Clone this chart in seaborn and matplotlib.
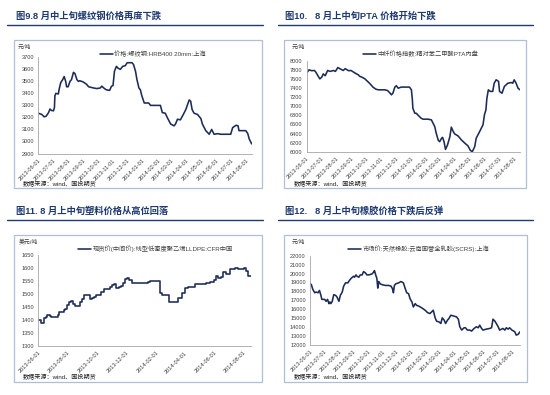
import pandas as pd
import numpy as np
import matplotlib
matplotlib.use("Agg")
import matplotlib.pyplot as plt
import matplotlib.dates as mdates
from matplotlib.patches import Rectangle
from matplotlib.lines import Line2D
import seaborn as sns

# 螺纹钢 HRB400 20mm 上海 (元/吨)
rebar_dates = [
    "2013-06-01", "2013-06-08", "2013-06-13", "2013-06-17", "2013-06-22", "2013-06-25",
    "2013-06-28", "2013-07-02", "2013-07-04", "2013-07-05", "2013-07-07", "2013-07-12",
    "2013-07-14", "2013-07-17", "2013-07-21", "2013-07-24", "2013-07-27", "2013-07-29",
    "2013-08-01", "2013-08-05", "2013-08-08", "2013-08-12", "2013-08-15", "2013-08-19",
    "2013-08-22", "2013-08-25", "2013-09-01", "2013-09-08", "2013-09-12", "2013-09-22",
    "2013-09-29", "2013-10-06", "2013-10-09", "2013-10-13", "2013-10-18", "2013-10-25",
    "2013-10-29", "2013-11-01", "2013-11-04", "2013-11-08", "2013-11-11", "2013-11-16",
    "2013-11-21", "2013-11-26", "2013-11-30", "2013-12-10", "2013-12-13", "2013-12-17",
    "2013-12-20", "2013-12-24", "2013-12-27", "2013-12-30", "2014-01-04", "2014-01-13",
    "2014-01-17", "2014-02-06", "2014-02-10", "2014-02-16", "2014-02-20", "2014-02-27",
    "2014-03-06", "2014-03-09", "2014-03-13", "2014-03-19", "2014-03-25", "2014-03-30",
    "2014-04-06", "2014-04-09", "2014-04-12", "2014-04-16", "2014-04-23", "2014-04-30",
    "2014-05-03", "2014-05-10", "2014-05-17", "2014-05-22", "2014-05-27", "2014-06-03",
    "2014-06-10", "2014-06-30", "2014-07-04", "2014-07-11", "2014-07-15", "2014-07-17",
    "2014-07-31", "2014-08-04", "2014-08-07", "2014-08-12",
]
rebar_price = [
    3235, 3225, 3205, 3210, 3240, 3270,
    3258, 3255, 3280, 3380, 3400, 3395,
    3440, 3490, 3515, 3540, 3500, 3455,
    3455, 3500, 3515, 3575, 3565, 3515,
    3500, 3505, 3495, 3475, 3455, 3445,
    3440, 3445, 3460, 3445, 3430, 3425,
    3460, 3465, 3585, 3625, 3610, 3600,
    3625, 3630, 3655, 3655, 3640, 3585,
    3515, 3445, 3430, 3380, 3320, 3320,
    3300, 3300, 3240, 3235, 3200, 3145,
    3130, 3145, 3185, 3180, 3225, 3265,
    3345, 3335, 3265, 3235, 3225, 3190,
    3145, 3090, 3060, 3100, 3060, 3065,
    3060, 3060, 3115, 3135, 3130, 3090,
    3090, 3065, 3020, 2980,
]

# 中纤价格指数 PTA 内盘 (元/吨)
pta_dates = [
    "2013-06-02", "2013-06-06", "2013-06-11", "2013-06-17", "2013-06-20", "2013-06-24",
    "2013-06-28", "2013-07-02", "2013-07-05", "2013-07-09", "2013-07-14", "2013-07-19",
    "2013-07-26", "2013-07-30", "2013-08-04", "2013-08-08", "2013-08-15", "2013-08-19",
    "2013-08-26", "2013-08-31", "2013-09-08", "2013-09-15", "2013-09-18", "2013-09-22",
    "2013-09-28", "2013-10-08", "2013-10-15", "2013-10-21", "2013-10-26", "2013-11-01",
    "2013-11-08", "2013-11-14", "2013-11-18", "2013-11-22", "2013-11-25", "2013-11-29",
    "2013-12-02", "2013-12-06", "2013-12-12", "2013-12-22", "2013-12-29", "2014-01-02",
    "2014-01-04", "2014-01-05", "2014-01-09", "2014-01-12", "2014-01-15", "2014-01-22",
    "2014-01-26", "2014-02-05", "2014-02-12", "2014-02-19", "2014-02-22", "2014-02-26",
    "2014-03-01", "2014-03-05", "2014-03-07", "2014-03-10", "2014-03-13", "2014-03-17",
    "2014-03-22", "2014-03-25", "2014-03-29", "2014-04-01", "2014-04-08", "2014-04-15",
    "2014-04-22", "2014-04-28", "2014-05-03", "2014-05-07", "2014-05-12", "2014-05-15",
    "2014-05-22", "2014-05-29", "2014-06-01", "2014-06-04", "2014-06-06", "2014-06-09",
    "2014-06-13", "2014-06-18", "2014-06-21", "2014-06-25", "2014-06-30", "2014-07-02",
    "2014-07-07", "2014-07-12", "2014-07-19", "2014-07-26", "2014-07-29", "2014-08-01",
    "2014-08-05", "2014-08-09", "2014-08-13",
]
pta_price = [
    7745, 7800, 7780, 7785, 7745, 7670,
    7600, 7640, 7710, 7670, 7785, 7765,
    7785, 7765, 7850, 7825, 7785, 7825,
    7780, 7785, 7730, 7690, 7655, 7640,
    7605, 7505, 7420, 7375, 7360, 7360,
    7360, 7345, 7300, 7250, 7285, 7420,
    7450, 7395, 7420, 7420, 7420, 7360,
    7140, 6955, 6845, 6845, 6810, 6735,
    6715, 6715, 6700, 6550, 6405, 6255,
    6220, 6295, 6315, 6220, 6050, 6145,
    6330, 6540, 6440, 6390, 6345, 6255,
    6185, 6130, 6030, 6000, 6110, 6295,
    6440, 6590, 6810, 6920, 7175, 7360,
    7325, 7325, 7505, 7580, 7545, 7325,
    7285, 7435, 7505, 7520, 7505, 7580,
    7505, 7395, 7360,
]

# LLDPE CFR 中国 现货中间价 (美元/吨)
lldpe_dates = [
    "2013-06-01", "2013-06-07", "2013-06-13", "2013-06-18", "2013-06-20", "2013-06-25",
    "2013-06-28", "2013-07-12", "2013-07-15", "2013-07-19", "2013-07-24", "2013-07-27",
    "2013-07-31", "2013-08-04", "2013-08-08", "2013-08-12", "2013-08-17", "2013-08-26",
    "2013-08-31", "2013-09-05", "2013-09-16", "2013-09-20", "2013-09-25", "2013-09-29",
    "2013-10-04", "2013-10-09", "2013-10-15", "2013-10-21", "2013-10-27", "2013-11-01",
    "2013-11-06", "2013-11-09", "2013-11-15", "2013-11-19", "2013-11-24", "2013-11-28",
    "2013-12-03", "2013-12-07", "2013-12-12", "2013-12-17", "2014-01-07", "2014-01-12",
    "2014-01-15", "2014-01-20", "2014-02-09", "2014-02-14", "2014-02-26", "2014-02-28",
    "2014-03-19", "2014-03-26", "2014-04-02", "2014-04-09", "2014-04-22", "2014-05-16",
    "2014-05-23", "2014-06-02", "2014-06-06", "2014-06-09", "2014-06-15", "2014-06-20",
    "2014-06-27", "2014-07-04", "2014-07-14", "2014-07-21", "2014-08-03", "2014-08-07",
    "2014-08-10", "2014-08-16",
]
lldpe_price = [
    1399, 1390, 1408, 1412, 1418, 1416,
    1412, 1421, 1429, 1431, 1438, 1442,
    1457, 1470, 1472, 1463, 1454, 1470,
    1480, 1498, 1480, 1483, 1489, 1496,
    1498, 1506, 1519, 1521, 1528, 1534,
    1537, 1524, 1528, 1532, 1544, 1557,
    1560, 1553, 1544, 1541, 1544, 1541,
    1547, 1550, 1503, 1496, 1498, 1470,
    1486, 1503, 1522, 1528, 1537, 1541,
    1547, 1554, 1570, 1562, 1566, 1583,
    1576, 1595, 1599, 1596, 1599, 1588,
    1570, 1570,
]

# 天然橡胶 云南国营全乳胶(SCRS) 上海 (元/吨)
rubber_dates = [
    "2013-06-01", "2013-06-04", "2013-06-07", "2013-06-11", "2013-06-14", "2013-06-18",
    "2013-06-21", "2013-06-24", "2013-06-26", "2013-07-02", "2013-07-05", "2013-07-08",
    "2013-07-11", "2013-07-13", "2013-07-15", "2013-07-18", "2013-07-21", "2013-07-25",
    "2013-07-28", "2013-08-01", "2013-08-04", "2013-08-08", "2013-08-11", "2013-08-15",
    "2013-08-20", "2013-08-23", "2013-08-27", "2013-09-01", "2013-09-03", "2013-09-06",
    "2013-09-08", "2013-09-12", "2013-09-15", "2013-09-19", "2013-09-22", "2013-09-26",
    "2013-09-29", "2013-10-03", "2013-10-10", "2013-10-13", "2013-10-15", "2013-10-18",
    "2013-10-20", "2013-10-22", "2013-10-24", "2013-10-27", "2013-11-01", "2013-11-07",
    "2013-11-14", "2013-11-19", "2013-11-22", "2013-11-24", "2013-11-26", "2013-11-29",
    "2013-12-05", "2013-12-10", "2013-12-15", "2013-12-19", "2013-12-22", "2013-12-26",
    "2013-12-29", "2014-01-02", "2014-01-05", "2014-01-09", "2014-01-12", "2014-01-16",
    "2014-01-23", "2014-01-30", "2014-02-04", "2014-02-09", "2014-02-16", "2014-02-20",
    "2014-02-23", "2014-02-28", "2014-03-04", "2014-03-07", "2014-03-11", "2014-03-14",
    "2014-03-18", "2014-03-21", "2014-03-25", "2014-03-30", "2014-04-06", "2014-04-10",
    "2014-04-13", "2014-04-17", "2014-04-22", "2014-04-25", "2014-04-29", "2014-05-04",
    "2014-05-08", "2014-05-13", "2014-05-18", "2014-05-22", "2014-05-25", "2014-05-29",
    "2014-06-01", "2014-06-08", "2014-06-15", "2014-06-19", "2014-06-22", "2014-06-26",
    "2014-06-29", "2014-07-03", "2014-07-06", "2014-07-13", "2014-07-17", "2014-07-20",
    "2014-07-24", "2014-07-27", "2014-08-01", "2014-08-07", "2014-08-10", "2014-08-14",
    "2014-08-18",
]
rubber_price = [
    18900, 18740, 18220, 17850, 17930, 17850,
    18110, 17560, 17110, 17110, 16890, 17110,
    16630, 16820, 16630, 16890, 17630, 17560,
    17370, 16890, 17560, 17930, 18590, 18960,
    18960, 19220, 19480, 19700, 19590, 19850,
    19700, 19590, 19850, 19850, 20220, 20070,
    19850, 19850, 19960, 20150, 20330, 19780,
    19480, 18370, 19110, 18850, 18740, 18670,
    18670, 18590, 18300, 17850, 18670, 18850,
    18960, 19110, 18960, 18300, 17850, 17740,
    17190, 16820, 16260, 16630, 16440, 16370,
    16150, 15890, 15630, 15520, 15890, 15040,
    14670, 14590, 14410, 15040, 14780, 14410,
    14780, 14960, 15330, 15260, 15150, 14890,
    14040, 13670, 13930, 13930, 13670, 13670,
    13560, 13850, 14040, 13930, 14220, 13850,
    13670, 13780, 13850, 13930, 14890, 14670,
    14410, 14040, 13670, 13850, 13670, 13930,
    13780, 13930, 13670, 13480, 13110, 13190,
    13480,
]

W, H = 550, 395
NAVY = "#1f3a70"
LINE = "#1c2b57"
TXT = "#404040"


def fx(x):
    return x / W


def fy(y):
    return 1 - y / H


def draw_panel(fig, title, title_xy, rule, box, area, dates, values, label,
               legend_xy, unit, unit_xy, source_xy, ylim, ystep, months, steps=False):
    # 标题和下划线
    fig.text(fx(title_xy[0]), fy(title_xy[1]), title, fontsize=6.7, fontweight="bold",
             color=NAVY, ha="left", va="center")
    fig.add_artist(Line2D([fx(rule[0]), fx(rule[1])], [fy(rule[2]), fy(rule[2])],
                          color=NAVY, lw=1.0, transform=fig.transFigure))
    # 图框
    x0, y0, x1, y1 = box
    fig.add_artist(Rectangle((fx(x0), fy(y1)), fx(x1) - fx(x0), fy(y0) - fy(y1),
                             transform=fig.transFigure, fill=False,
                             edgecolor="#aebfd6", lw=0.9))

    l, t, r, b = area
    ax = fig.add_axes([fx(l), fy(b), fx(r) - fx(l), fy(t) - fy(b)])
    df = pd.DataFrame({"date": pd.to_datetime(dates), "value": values})
    kw = {"drawstyle": "steps-post"} if steps else {}
    sns.lineplot(data=df, x="date", y="value", ax=ax, color=LINE, lw=1.15,
                 label=label, **kw)
    ax.set_xlim(df["date"].iloc[0].replace(day=1), df["date"].iloc[-1])
    ax.set_ylim(*ylim)
    ax.set_yticks(np.arange(ylim[0], ylim[1] + 1, ystep))
    ax.xaxis.set_major_locator(mdates.MonthLocator(bymonth=months, bymonthday=1))
    ax.xaxis.set_major_formatter(mdates.DateFormatter("%Y-%m-%d"))
    ax.set_xlabel("")
    ax.set_ylabel("")
    for s in ["top", "right"]:
        ax.spines[s].set_visible(False)
    for s in ["left", "bottom"]:
        ax.spines[s].set_color("#a6a6a6")
        ax.spines[s].set_linewidth(0.6)
    ax.tick_params(axis="both", labelsize=4.1, colors=TXT, length=1.8, width=0.5,
                   pad=1.2)
    ax.tick_params(axis="both", color="#a6a6a6")
    plt.setp(ax.get_xticklabels(), rotation=45, ha="right", rotation_mode="anchor")
    ax.set_facecolor("white")
    ax.legend(loc="center left", bbox_to_anchor=(fx(legend_xy[0]), fy(legend_xy[1])),
              bbox_transform=fig.transFigure, frameon=False, fontsize=4.5,
              handlelength=2.0, handletextpad=0.3, borderpad=0, borderaxespad=0,
              labelcolor=TXT)

    fig.text(fx(unit_xy[0]), fy(unit_xy[1]), unit, fontsize=4.2, color=TXT,
             ha="left", va="center")
    fig.text(fx(source_xy[0]), fy(source_xy[1]), "数据来源：wind、国投期货",
             fontsize=4.4, color="#202020", ha="left", va="center")
    return ax


sns.set_theme(style="white")
plt.rcParams["font.family"] = ["Liberation Sans", "Noto Sans CJK SC", "DejaVu Sans"]
plt.rcParams["axes.unicode_minus"] = False

fig = plt.figure(figsize=(5.5, 3.95), dpi=100)
fig.patch.set_facecolor("white")

every_month = list(range(1, 13))
even_months = [2, 4, 6, 8, 10, 12]

draw_panel(fig, "图9.8 月中上旬螺纹钢价格再度下跌", (16, 16), (7, 263, 25),
           (14, 40, 262, 188), (38.3, 57.3, 251.7, 153.5),
           rebar_dates, rebar_price, "价格:螺纹钢:HRB400 20mm:上海", (100, 54),
           "元/吨", (18, 47), (23, 184), (2900, 3700), 100, every_month)

draw_panel(fig, "图10.   8 月上中旬PTA 价格开始下跌", (285, 16), (278, 533, 25),
           (284, 40, 526, 188), (306.7, 60.7, 520, 151.7),
           pta_dates, pta_price, "中纤价格指数:精对苯二甲酸PTA内盘", (363, 54),
           "元/吨", (292, 47), (294, 184), (6000, 8000), 200, every_month)

draw_panel(fig, "图11. 8 月上中旬塑料价格从高位回落", (16, 211), (7, 263, 220),
           (14, 235, 262, 382), (38.3, 255, 250.5, 346),
           lldpe_dates, lldpe_price, "现货价(中间价):线型低密度聚乙烯LLDPE:CFR中国", (78, 249),
           "美元/吨", (19, 242), (23, 377), (1300, 1650), 50, even_months, steps=True)

draw_panel(fig, "图12.   8 月上中旬橡胶价格下跌后反弹", (285, 211), (278, 533, 220),
           (284, 235, 527, 382), (310, 255.7, 520, 345),
           rubber_dates, rubber_price, "市场价:天然橡胶:云南国营全乳胶(SCRS):上海", (348, 249),
           "元/吨", (292, 242), (294, 377), (12000, 22000), 1000, every_month)

fig.savefig("out.png", dpi=100, facecolor="white")
